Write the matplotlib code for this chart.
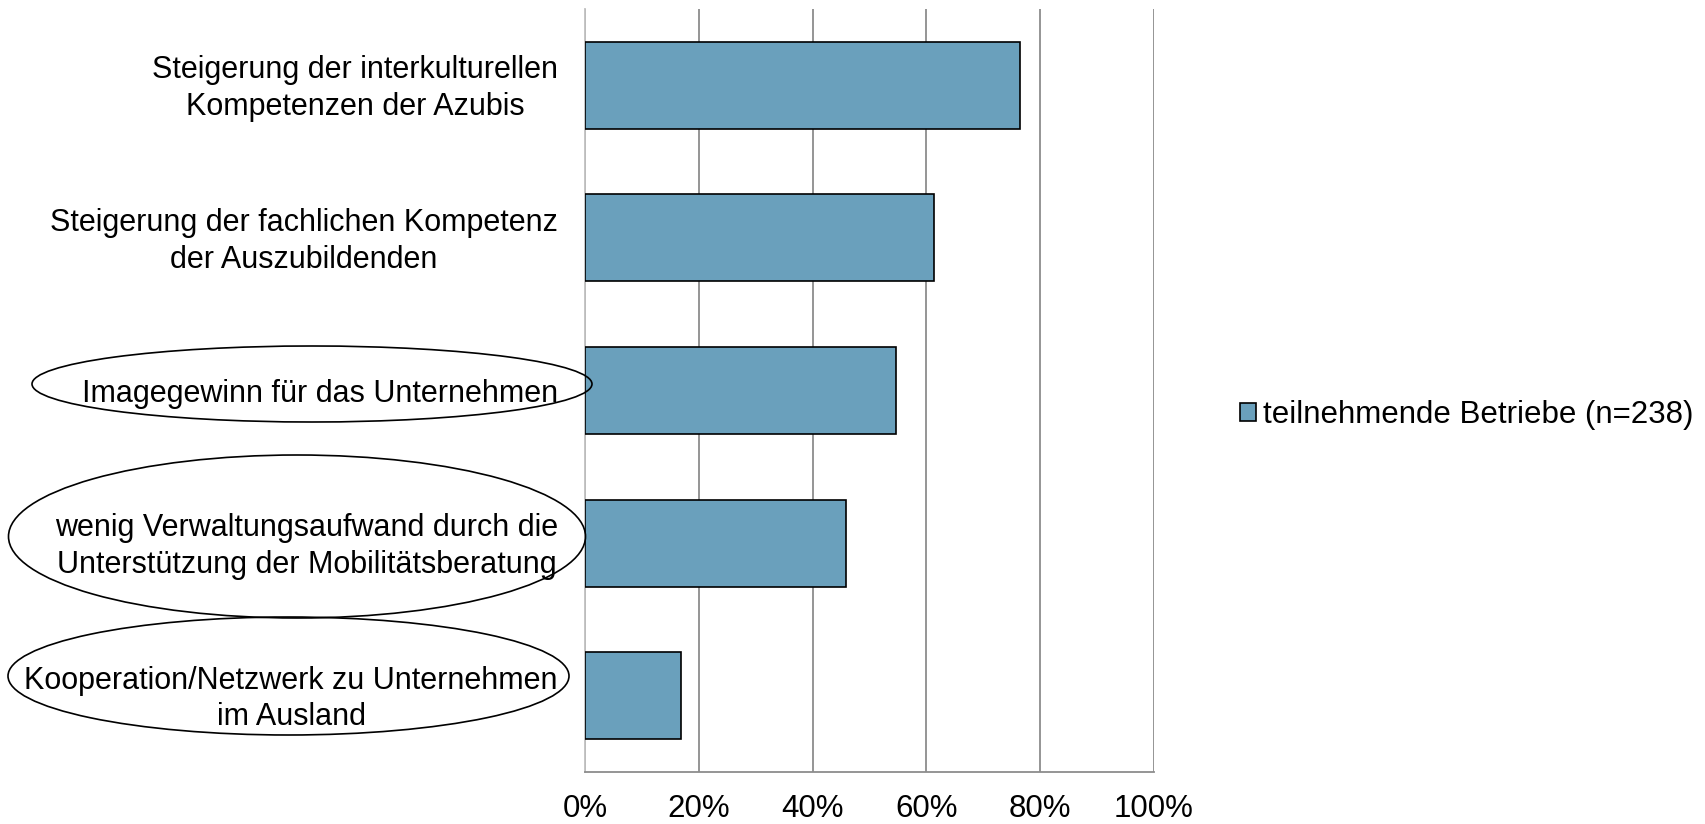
import matplotlib
matplotlib.use("Agg")
import matplotlib.pyplot as plt
import matplotlib.transforms as mtransforms
from matplotlib.patches import Ellipse
from matplotlib.ticker import FuncFormatter

categories = [
    "Steigerung der interkulturellen\nKompetenzen der Azubis",
    "Steigerung der fachlichen Kompetenz\nder Auszubildenden",
    "Imagegewinn für das Unternehmen",
    "wenig Verwaltungsaufwand durch die\nUnterstützung der Mobilitätsberatung",
    "Kooperation/Netzwerk zu Unternehmen\nim Ausland",
]
values = [76.5, 61.3, 54.6, 45.8, 16.8]
series_label = "teilnehmende Betriebe (n=238)"
xticks = [0, 20, 40, 60, 80, 100]

plt.rcParams['font.family'] = ['Liberation Sans', 'DejaVu Sans']

W, H = 1705, 824
fig = plt.figure(figsize=(W / 100, H / 100), dpi=100)
ax = fig.add_axes([585 / W, 1 - 772 / H, (1154 - 585) / W, (772 - 9) / H])

ypos = list(range(len(categories)))
bars = ax.barh(ypos, values, height=0.57, color="#6AA0BC", edgecolor="black",
               linewidth=1.2, label=series_label, zorder=3)
ax.set_ylim(len(categories) - 0.5, -0.5)
ax.set_xlim(0, 100)
ax.set_xticks(xticks)
ax.xaxis.set_major_formatter(FuncFormatter(lambda v, p: f"{int(v)}%"))
ax.tick_params(axis="y", length=0, pad=19.5)
ax.tick_params(axis="x", length=0, pad=16, labelsize=22.5)
ax.set_yticks(ypos)
ax.set_yticklabels(categories, fontsize=22)
shift = mtransforms.ScaledTranslation(0, -2.4 / 72, fig.dpi_scale_trans)
for t in ax.get_yticklabels():
    t.set_multialignment("center")
    t.set_linespacing(1.3)
    t.set_verticalalignment("center")
    t.set_transform(t.get_transform() + shift)
ax.grid(axis="x", color="#8c8c8c", linewidth=1.3, zorder=0)
for s in ["top", "right"]:
    ax.spines[s].set_visible(False)
ax.spines["left"].set_color("#c0c0c0")
ax.spines["left"].set_linewidth(1.3)
ax.spines["bottom"].set_color("#8c8c8c")
ax.spines["bottom"].set_linewidth(1.3)

# ellipses around labels (figure pixel coordinates -> fractions)
ells = [
    (312, 384, 560, 76),
    (297, 536.5, 577, 163),
    (288.5, 676, 561, 118),
]
for cx, cy, w, h in ells:
    e = Ellipse((cx / W, 1 - cy / H), w / W, h / H, transform=fig.transFigure,
                fill=False, edgecolor="black", linewidth=1.2, zorder=5)
    fig.patches.append(e)

fig.legend(handles=[bars], labels=[series_label], loc="center left",
           bbox_to_anchor=(1240 / W, 1 - 415 / H), frameon=False, fontsize=22.5,
           handlelength=0.5, handleheight=0.5, handletextpad=0.25, borderpad=0,
           borderaxespad=0)

fig.savefig("out.png", dpi=100)
